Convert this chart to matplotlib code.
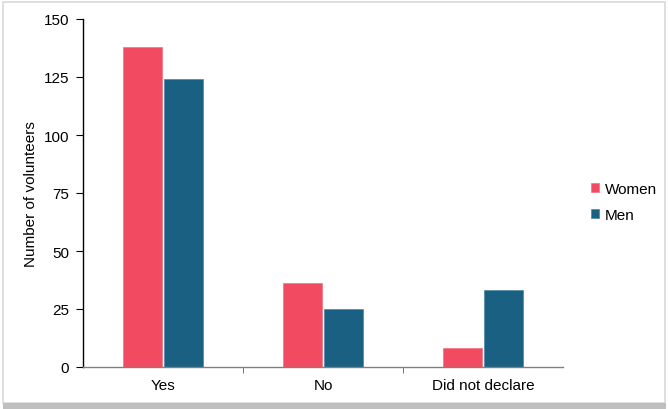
import matplotlib
matplotlib.use("Agg")
import matplotlib.pyplot as plt
from matplotlib.patches import Rectangle
import numpy as np

categories = ["Yes", "No", "Did not declare"]
women = [138, 36, 8]
men = [124, 25, 33]
yticks = [0, 25, 50, 75, 100, 125, 150]

plt.rcParams['font.family'] = ['Liberation Sans', 'DejaVu Sans']

W, H = 668, 410
fig = plt.figure(figsize=(W/100, H/100), dpi=100)
fig.patch.set_facecolor('white')

# border
fig.add_artist(Rectangle((3/W, 6/H), (665-3)/W, (407-6)/H, transform=fig.transFigure,
                         fill=False, edgecolor='#d9d9d9', linewidth=1.2))
fig.add_artist(Rectangle((3/W, 0), (666-3)/W, 6/H, transform=fig.transFigure,
                         facecolor='#bfbfbf', edgecolor='none'))

ax = fig.add_axes([83/W, (H-368)/H, (563-83)/W, (368-20)/H])
x = np.arange(len(categories))
bw = 0.245
gap = 0.008
ax.bar(x - bw/2 - gap, women, width=bw, color='#F24A60', label='Women', edgecolor='#F4707F', linewidth=0.5)
ax.bar(x + bw/2 + gap, men, width=bw, color='#1A6083', label='Men', edgecolor='#4A84A3', linewidth=0.5)

ax.set_xlim(-0.5, len(categories) - 0.5)
ax.set_ylim(0, 150)
ax.set_yticks(yticks)
ax.set_xticks(x)
ax.set_xticklabels(categories)
ax.set_xticks(np.arange(0.5, len(categories) - 0.5, 1), minor=True)
ax.tick_params(axis='x', which='major', length=0, labelsize=11, pad=8, colors='black')
ax.tick_params(axis='x', which='minor', length=4, direction='out', color='#595959')
ax.tick_params(axis='y', length=5, direction='out', labelsize=11, color='black', pad=5)

for s in ['top', 'right']:
    ax.spines[s].set_visible(False)
ax.spines['left'].set_color('black')
ax.spines['bottom'].set_color('#808080')
ax.spines['left'].set_linewidth(1.0)
ax.spines['bottom'].set_linewidth(1.0)

ax.set_ylabel('Number of volunteers', fontsize=11, labelpad=4)

leg = fig.legend(loc='center left', bbox_to_anchor=(577/W, (H-203)/H), frameon=False,
                 fontsize=11, handlelength=0.55, handleheight=0.55, handletextpad=0.35,
                 labelspacing=0.75)

fig.savefig('out.png', dpi=100)
